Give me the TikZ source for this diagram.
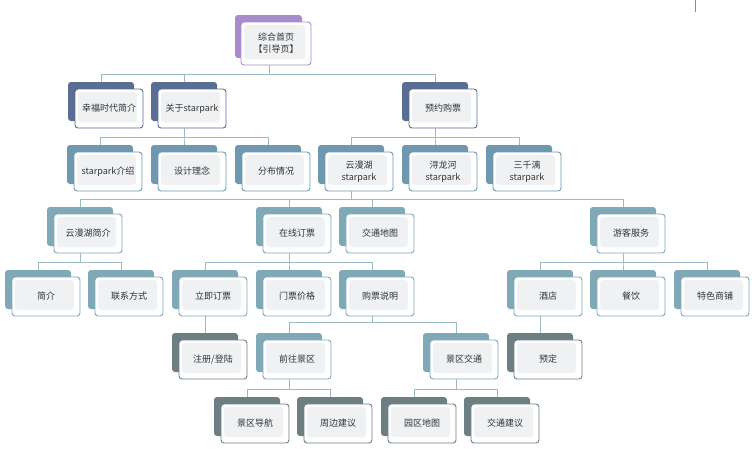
\documentclass[tikz,border=0pt]{standalone}
\usepackage{fontspec}
\setmainfont{Noto Sans CJK SC}
\definecolor{cpurple}{HTML}{A88BCB}
\definecolor{cnavy}{HTML}{5A6D92}
\definecolor{csteel}{HTML}{6D98AF}
\definecolor{cteal}{HTML}{7FA9B6}
\definecolor{cslate}{HTML}{6E7F84}
\definecolor{cline}{HTML}{9DBBC3}
\definecolor{cinner}{HTML}{EFF1F3}
\tikzset{
  front/.style={draw=#1, line width=0.9pt, fill=white, rounded corners=3pt,
    minimum width=68pt, minimum height=39pt, inner sep=1pt, align=center,
    font=\fontsize{9}{12}\selectfont, text=black!80,
    path picture={\fill[cinner] ([shift={(3pt,-3pt)}]path picture bounding box.north west) rectangle ([shift={(-6pt,6pt)}]path picture bounding box.south east);}},
  backbox/.style={fill=#1, rounded corners=3pt},
  conn/.style={draw=cline, line width=0.9pt},
}
\newcommand\mmnode[5]{%
  \fill[backbox=#4] (#2-33,#3) rectangle (#2+33,#3+39);
  \node[front=#4] (#1) at (#2+8,#3+26.5) {#5};
  \coordinate (#1-t) at (#2,#3);
  \coordinate (#1-b) at (#2,#3+46);
}
\newcommand\link[2]{\draw[conn] (#1-b) |- ([yshift=8pt]#2-t) -- (#2-t);}
\begin{document}
\begin{tikzpicture}[x=1pt,y=-1pt]
\useasboundingbox (0,0) rectangle (752,466);
\draw[black!45, line width=0.6pt] (695,0) -- (695,12);
% root
\fill[backbox=cpurple] (235,15) rectangle (302,58);
\node[front=cpurple, minimum width=70pt, minimum height=43pt] (root) at (276,43.5) {综合首页\\【引导页】};
\coordinate (root-b) at (269,65);
% level 1
\mmnode{xf}{101}{82}{cnavy}{幸福时代简介}
\mmnode{gy}{184}{82}{cnavy}{关于starpark}
\mmnode{yy}{435}{82}{cnavy}{预约购票}
% level 2
\mmnode{js}{100}{145}{csteel}{starpark介绍}
\mmnode{sj}{184}{145}{csteel}{设计理念}
\mmnode{fb}{268}{145}{csteel}{分布情况}
\mmnode{ym}{351}{145}{csteel}{云漫湖\\starpark}
\mmnode{xl}{435}{145}{csteel}{浔龙河\\starpark}
\mmnode{sq}{519}{145}{csteel}{三千漓\\starpark}
% level 3
\mmnode{ymj}{80}{207}{cteal}{云漫湖简介}
\mmnode{zx}{289}{207}{cteal}{在线订票}
\mmnode{jt}{372}{207}{cteal}{交通地图}
\mmnode{yk}{623}{207}{cteal}{游客服务}
% level 4
\mmnode{jj}{38}{270}{cteal}{简介}
\mmnode{lx}{121}{270}{cteal}{联系方式}
\mmnode{lj}{205}{270}{cteal}{立即订票}
\mmnode{mp}{289}{270}{cteal}{门票价格}
\mmnode{gp}{372}{270}{cteal}{购票说明}
\mmnode{jd}{540}{270}{cteal}{酒店}
\mmnode{cy}{623}{270}{cteal}{餐饮}
\mmnode{ts}{707}{270}{cteal}{特色商铺}
% level 5
\mmnode{zc}{205}{333}{cslate}{注册/登陆}
\mmnode{qw}{289}{333}{cteal}{前往景区}
\mmnode{jq}{456}{333}{cteal}{景区交通}
\mmnode{yd}{540}{333}{cslate}{预定}
% level 6
\mmnode{dh}{247}{397}{cslate}{景区导航}
\mmnode{zb}{330}{397}{cslate}{周边建议}
\mmnode{yq}{414}{397}{cslate}{园区地图}
\mmnode{jy}{497}{397}{cslate}{交通建议}
% connectors
\link{root}{xf}\link{root}{gy}\link{root}{yy}
\link{gy}{js}\link{gy}{sj}\link{gy}{fb}
\link{yy}{ym}\link{yy}{xl}\link{yy}{sq}
\link{ym}{ymj}\link{ym}{zx}\link{ym}{jt}\link{ym}{yk}
\link{ymj}{jj}\link{ymj}{lx}
\link{zx}{lj}\link{zx}{mp}\link{zx}{gp}
\link{yk}{jd}\link{yk}{cy}\link{yk}{ts}
\draw[conn] (lj-b) -- (zc-t);
\draw[conn] (jd-b) -- (yd-t);
\draw[conn] (gp-b) -- ++(0,6) -| (qw-t);
\draw[conn] (gp-b) -- ++(0,6) -| (jq-t);
\link{qw}{dh}\link{qw}{zb}
\link{jq}{yq}\link{jq}{jy}
\end{tikzpicture}
\end{document}
